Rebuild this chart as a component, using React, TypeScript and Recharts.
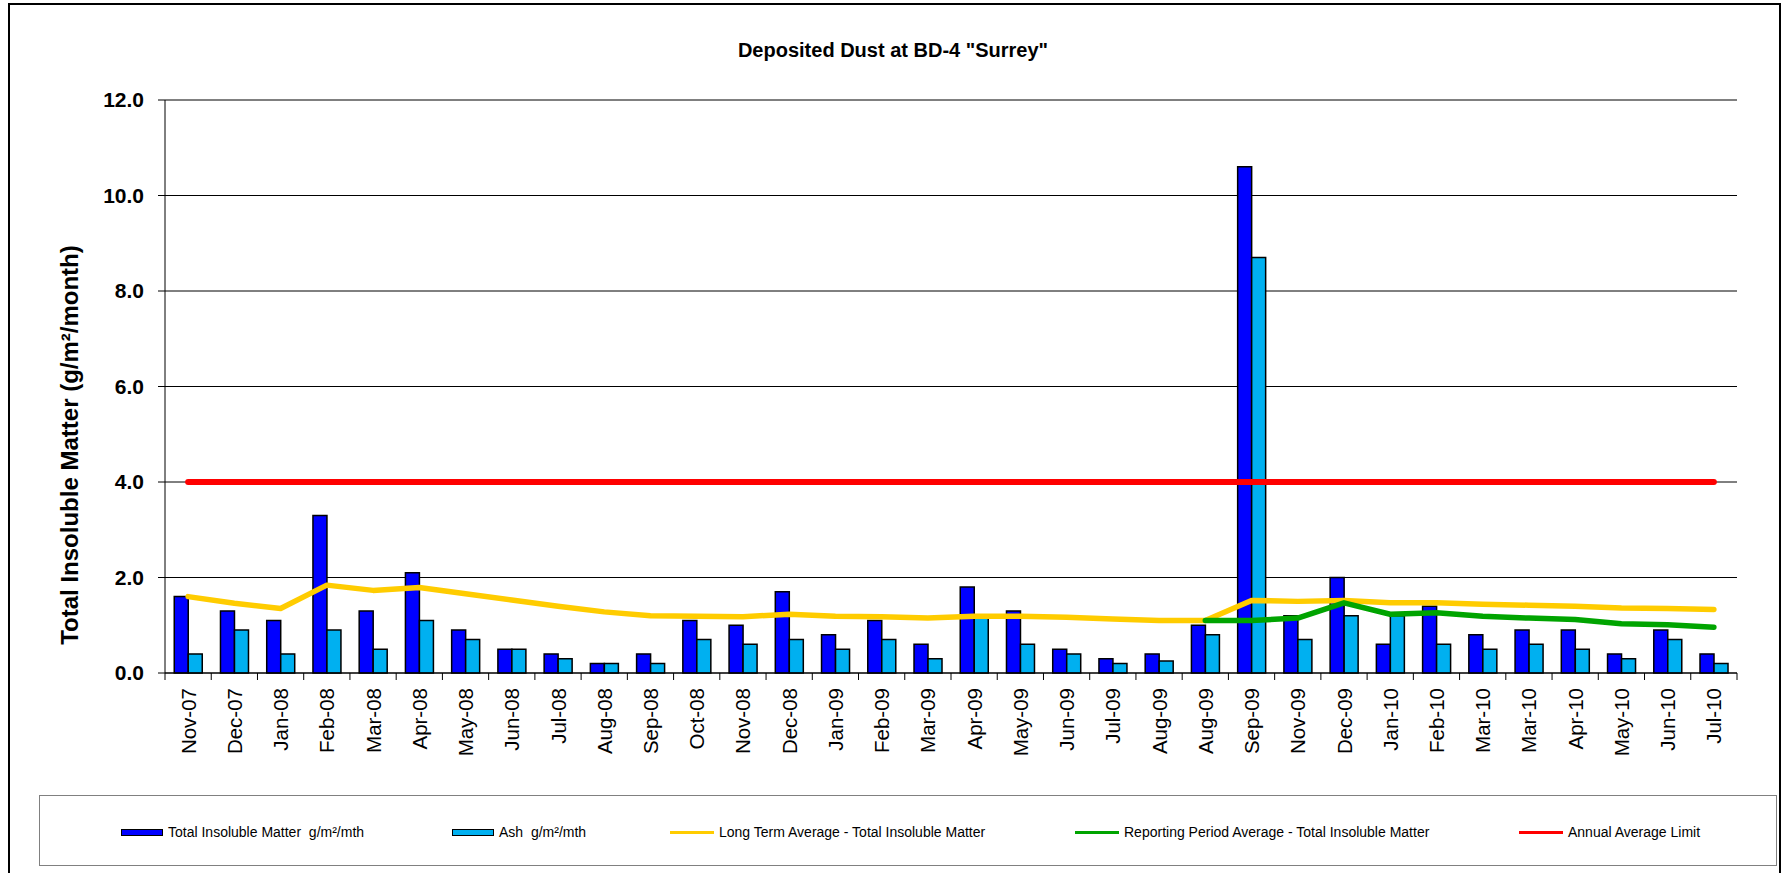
import {
    ComposedChart,
    Bar,
    Line,
    XAxis,
    YAxis,
    CartesianGrid,
    Legend
} from 'recharts';

const months = [
    'Nov-07', 'Dec-07', 'Jan-08', 'Feb-08', 'Mar-08', 'Apr-08', 'May-08', 'Jun-08',
    'Jul-08', 'Aug-08', 'Sep-08', 'Oct-08', 'Nov-08', 'Dec-08', 'Jan-09', 'Feb-09',
    'Mar-09', 'Apr-09', 'May-09', 'Jun-09', 'Jul-09', 'Aug-09', 'Aug-09', 'Sep-09',
    'Nov-09', 'Dec-09', 'Jan-10', 'Feb-10', 'Mar-10', 'Mar-10', 'Apr-10', 'May-10',
    'Jun-10', 'Jul-10'
];

const totalInsoluble = [
    1.6, 1.3, 1.1, 3.3, 1.3, 2.1, 0.9, 0.5, 0.4, 0.2, 0.4, 1.1, 1.0, 1.7, 0.8, 1.1,
    0.6, 1.8, 1.3, 0.5, 0.3, 0.4, 1.0, 10.6, 1.2, 2.0, 0.6, 1.4, 0.8, 0.9, 0.9, 0.4,
    0.9, 0.4
];

const ash = [
    0.4, 0.9, 0.4, 0.9, 0.5, 1.1, 0.7, 0.5, 0.3, 0.2, 0.2, 0.7, 0.6, 0.7, 0.5, 0.7,
    0.3, 1.2, 0.6, 0.4, 0.2, 0.25, 0.8, 8.7, 0.7, 1.2, 1.2, 0.6, 0.5, 0.6, 0.5, 0.3,
    0.7, 0.2
];

const longTermAvg = [
    1.6, 1.46, 1.35, 1.84, 1.73, 1.79, 1.66, 1.53, 1.4, 1.28, 1.2, 1.19, 1.18, 1.23,
    1.19, 1.18, 1.15, 1.19, 1.19, 1.17, 1.13, 1.1, 1.1, 1.52, 1.5, 1.52, 1.47, 1.47,
    1.44, 1.42, 1.4, 1.36, 1.35, 1.33
];

// reporting period only starts at the second Aug-09
const reportingAvg = [
    null, null, null, null, null, null, null, null, null, null, null, null, null, null,
    null, null, null, null, null, null, null, null, 1.1, 1.1, 1.15, 1.47, 1.23, 1.26,
    1.19, 1.15, 1.12, 1.03, 1.01, 0.96
];

const limit = months.map(() => 4.0);

const yTicks = [0, 2, 4, 6, 8, 10, 12];

const seriesNames = [
    'Total Insoluble Matter  g/m²/mth',
    'Ash  g/m²/mth',
    'Long Term Average - Total Insoluble Matter',
    'Reporting Period Average - Total Insoluble Matter',
    'Annual Average Limit'
];

const data = months.map((month, i) => ({
    month,
    total: totalInsoluble[i],
    ash: ash[i],
    longTerm: longTermAvg[i],
    reporting: reportingAvg[i],
    limit: limit[i]
}));

const FONT = "'Liberation Sans', Arial, Helvetica, sans-serif";
const W = 1783;
const H = 873;
const PLOT_LEFT = 165;
const PLOT_RIGHT = 1737;
const BAND = (PLOT_RIGHT - PLOT_LEFT) / months.length;

const BLUE = '#0000FF';
const LIGHT_BLUE = '#00B0F0';
const YELLOW = '#FFCC00';
const GREEN = '#00A400';
const RED = '#FF0000';

const MonthTick = (props: any) => {
    const { x, y, payload, index } = props;
    const last = index === months.length - 1;
    return (
        <g>
            <line x1={x - BAND / 2} x2={x - BAND / 2} y1={y} y2={y + 7} stroke="#000" />
            {last && <line x1={x + BAND / 2} x2={x + BAND / 2} y1={y} y2={y + 7} stroke="#000" />}
            <text
                transform={`translate(${x},${y + 15}) rotate(-90)`}
                textAnchor="end"
                dominantBaseline="central"
                fontFamily={FONT}
                fontSize={20.5}
                fill="#000"
            >
                {payload.value}
            </text>
        </g>
    );
};

const YLabel = (props: any) => {
    const vb = props.viewBox || { x: 45 };
    const cx = vb.x + 24;
    const cy = 445;
    return (
        <text
            x={cx}
            y={cy}
            transform={`rotate(-90, ${cx}, ${cy})`}
            textAnchor="middle"
            dominantBaseline="central"
            fontFamily={FONT}
            fontWeight="bold"
            fontSize={24}
            fill="#000"
        >
            Total Insoluble Matter (g/m²/month)
        </text>
    );
};

// legend item left edges (page px) minus the legend box left
const legendOffsets = [81, 412, 630, 1035, 1479];
const legendKinds = ['bar', 'bar', 'line', 'line', 'line'];
const legendColors = [BLUE, LIGHT_BLUE, YELLOW, GREEN, RED];

const LegendBox = () => (
    <div style={{ position: 'relative', width: '100%', height: '100%' }}>
        {seriesNames.map((name, i) => (
            <div
                key={name}
                style={{
                    position: 'absolute',
                    left: legendOffsets[i],
                    top: 26,
                    height: 20,
                    display: 'flex',
                    alignItems: 'center',
                    fontFamily: FONT,
                    fontSize: 14,
                    color: '#000',
                    whiteSpace: 'pre'
                }}
            >
                {legendKinds[i] === 'bar' ? (
                    <span
                        style={{
                            display: 'inline-block',
                            width: 40,
                            height: 5,
                            background: legendColors[i],
                            border: '1.5px solid #000',
                            marginRight: 5
                        }}
                    />
                ) : (
                    <span
                        style={{
                            display: 'inline-block',
                            width: 44,
                            height: 3,
                            background: legendColors[i],
                            marginRight: 5
                        }}
                    />
                )}
                {name}
            </div>
        ))}
    </div>
);

export default function App() {
    return (
        <div style={{ position: 'absolute', left: 0, top: 0, width: W, height: H, background: '#fff' }}>
            <div
                style={{
                    position: 'absolute',
                    left: 8,
                    top: 3,
                    width: 1773,
                    height: 880,
                    border: '2px solid #000',
                    boxSizing: 'border-box'
                }}
            />
            <div
                style={{
                    position: 'absolute',
                    left: 0,
                    top: 38,
                    width: 1786,
                    textAlign: 'center',
                    fontFamily: FONT,
                    fontWeight: 'bold',
                    fontSize: 20,
                    lineHeight: '24px'
                }}
            >
                Deposited Dust at BD-4 "Surrey"
            </div>
            <div style={{ position: 'absolute', left: 0, top: 0 }}>
                <ComposedChart
                    width={W}
                    height={H}
                    data={data}
                    margin={{ top: 100, right: W - PLOT_RIGHT, bottom: 100, left: 45 }}
                    barCategoryGap="20%"
                    barGap={0}
                >
                    <CartesianGrid horizontal vertical={false} stroke="#000" strokeWidth={1} />
                    <XAxis
                        dataKey="month"
                        interval={0}
                        height={100}
                        tickSize={0}
                        tickMargin={0}
                        tickLine={false}
                        axisLine={{ stroke: '#000', strokeWidth: 1 }}
                        tick={<MonthTick />}
                    />
                    <YAxis
                        width={120}
                        domain={[0, 12]}
                        ticks={yTicks}
                        interval={0}
                        tickFormatter={(v: number) => v.toFixed(1)}
                        tickSize={7}
                        tickMargin={14}
                        axisLine={{ stroke: '#000', strokeWidth: 1 }}
                        tickLine={{ stroke: '#000' }}
                        tick={{ fill: '#000', fontFamily: FONT, fontWeight: 'bold', fontSize: 21 }}
                        label={<YLabel />}
                    />
                    <YAxis
                        yAxisId="frame"
                        orientation="right"
                        width={0}
                        tick={false}
                        tickLine={false}
                        axisLine={{ stroke: '#888', strokeWidth: 2 }}
                    />
                    <Bar
                        dataKey="total"
                        name={seriesNames[0]}
                        fill={BLUE}
                        stroke="#000"
                        strokeWidth={1.5}
                        isAnimationActive={false}
                    />
                    <Bar
                        dataKey="ash"
                        name={seriesNames[1]}
                        fill={LIGHT_BLUE}
                        stroke="#000"
                        strokeWidth={1.5}
                        isAnimationActive={false}
                    />
                    <Line
                        type="linear"
                        dataKey="longTerm"
                        name={seriesNames[2]}
                        stroke={YELLOW}
                        strokeWidth={5.5}
                        strokeLinecap="round"
                        strokeLinejoin="round"
                        dot={false}
                        activeDot={false}
                        isAnimationActive={false}
                    />
                    <Line
                        type="linear"
                        dataKey="reporting"
                        name={seriesNames[3]}
                        stroke={GREEN}
                        strokeWidth={5.5}
                        strokeLinecap="round"
                        strokeLinejoin="round"
                        dot={false}
                        activeDot={false}
                        connectNulls={false}
                        isAnimationActive={false}
                    />
                    <Line
                        type="linear"
                        dataKey="limit"
                        name={seriesNames[4]}
                        stroke={RED}
                        strokeWidth={6}
                        strokeLinecap="round"
                        dot={false}
                        activeDot={false}
                        isAnimationActive={false}
                    />
                    <Legend
                        layout="horizontal"
                        verticalAlign="middle"
                        align="center"
                        content={<LegendBox />}
                        wrapperStyle={{
                            left: 39,
                            top: 795,
                            width: 1738,
                            height: 71,
                            border: '1px solid #808080',
                            boxSizing: 'border-box',
                            background: '#fff'
                        }}
                    />
                </ComposedChart>
            </div>
        </div>
    );
}
